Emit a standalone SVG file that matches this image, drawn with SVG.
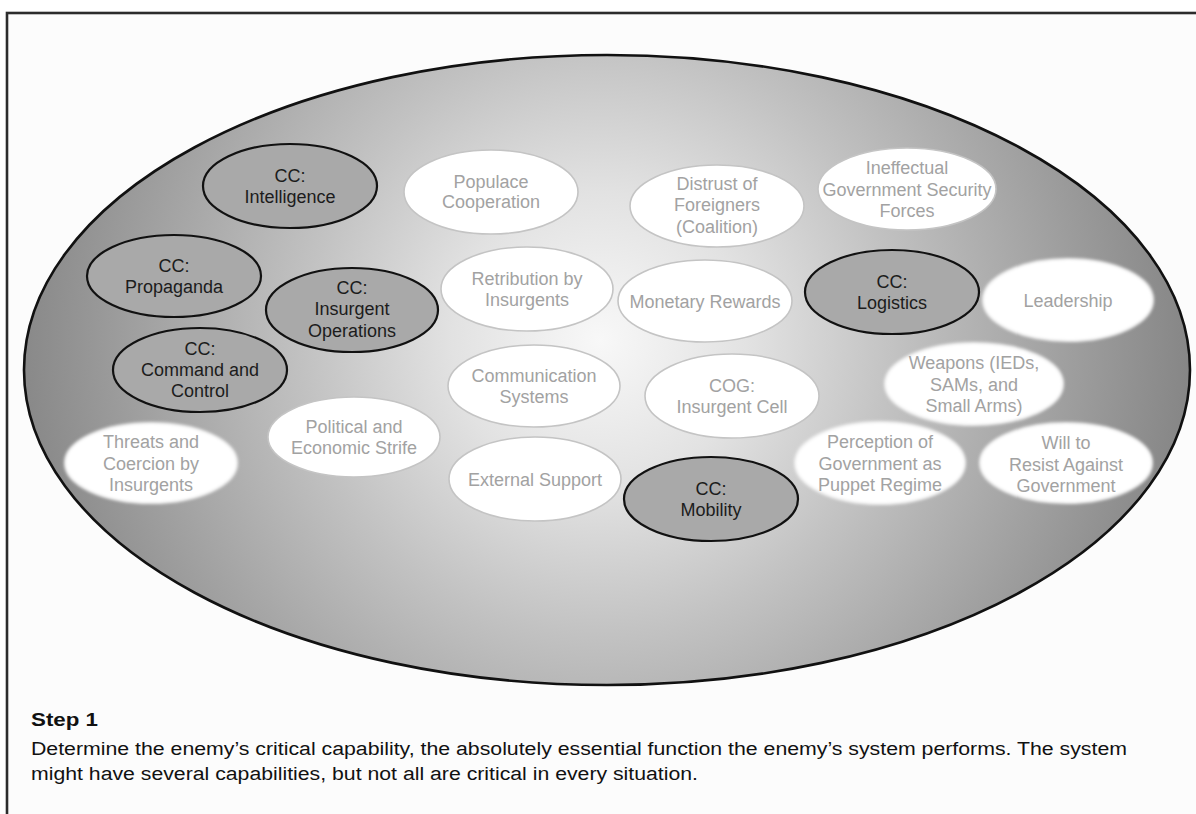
<svg xmlns="http://www.w3.org/2000/svg" width="1196" height="814" viewBox="0 0 1196 814">
  <defs>
    <radialGradient id="field" gradientUnits="userSpaceOnUse" cx="600" cy="340" r="590">
      <stop offset="0" stop-color="#f8f8f8"/>
      <stop offset="0.25" stop-color="#e2e2e2"/>
      <stop offset="0.5" stop-color="#c2c2c2"/>
      <stop offset="1" stop-color="#868686"/>
    </radialGradient>
    <filter id="soft" x="-10%" y="-10%" width="120%" height="120%">
      <feGaussianBlur stdDeviation="1.6"/>
    </filter>
    <style>
      .cc ellipse { fill: #a9a9a9; stroke: #111; stroke-width: 2.2; }
      .cc text { fill: #1c1c1c; }
      .lt ellipse { fill: #ffffff; stroke: #c4c4c4; stroke-width: 1.6; }
      .lt.edge ellipse { stroke: #f2f2f2; stroke-width: 2; filter: url(#soft); }
      .lt text { fill: #a2a2a2; }
      text { font-family: "Liberation Sans", Arial, sans-serif; font-size: 18px; text-anchor: middle; }
      .caption { text-anchor: start; fill: #111; }
    </style>
  </defs>

  <!-- page frame -->
  <rect x="0" y="0" width="1196" height="814" fill="#ffffff"/>
  <rect x="7" y="13" width="1200" height="820" fill="#fcfcfc" stroke="#2c2c2c" stroke-width="2.6"/>

  <!-- system boundary -->
  <ellipse id="system" cx="607" cy="370" rx="583" ry="315" fill="url(#field)" stroke="#111" stroke-width="2.6"/>

  <g id="connectors"/>

  <!-- critical capabilities -->
  <g id="cc-intelligence" class="cc">
    <ellipse cx="290" cy="186" rx="87" ry="42"/>
    <text x="290" y="182">CC:</text>
    <text x="290" y="203">Intelligence</text>
  </g>
  <g id="cc-propaganda" class="cc">
    <ellipse cx="174" cy="276" rx="87" ry="41"/>
    <text x="174" y="272">CC:</text>
    <text x="174" y="293">Propaganda</text>
  </g>
  <g id="cc-insurgent-operations" class="cc">
    <ellipse cx="352" cy="310" rx="86" ry="42"/>
    <text x="352" y="294">CC:</text>
    <text x="352" y="315">Insurgent</text>
    <text x="352" y="337">Operations</text>
  </g>
  <g id="cc-command-control" class="cc">
    <ellipse cx="200" cy="370" rx="87" ry="42"/>
    <text x="200" y="355">CC:</text>
    <text x="200" y="376">Command and</text>
    <text x="200" y="397">Control</text>
  </g>
  <g id="cc-logistics" class="cc">
    <ellipse cx="892" cy="292" rx="87" ry="42"/>
    <text x="892" y="288">CC:</text>
    <text x="892" y="309">Logistics</text>
  </g>
  <g id="cc-mobility" class="cc">
    <ellipse cx="711" cy="499" rx="87" ry="42"/>
    <text x="711" y="495">CC:</text>
    <text x="711" y="516">Mobility</text>
  </g>

  <!-- other system elements -->
  <g id="populace-cooperation" class="lt">
    <ellipse cx="491" cy="192" rx="87" ry="42"/>
    <text x="491" y="188">Populace</text>
    <text x="491" y="208">Cooperation</text>
  </g>
  <g id="distrust-of-foreigners" class="lt">
    <ellipse cx="717" cy="206" rx="87" ry="41"/>
    <text x="717" y="190">Distrust of</text>
    <text x="717" y="211">Foreigners</text>
    <text x="717" y="233">(Coalition)</text>
  </g>
  <g id="ineffectual-security-forces" class="lt">
    <ellipse cx="907" cy="189" rx="89" ry="41"/>
    <text x="907" y="174">Ineffectual</text>
    <text x="907" y="196">Government Security</text>
    <text x="907" y="217">Forces</text>
  </g>
  <g id="retribution" class="lt">
    <ellipse cx="527" cy="289" rx="86" ry="42"/>
    <text x="527" y="285">Retribution by</text>
    <text x="527" y="306">Insurgents</text>
  </g>
  <g id="monetary-rewards" class="lt">
    <ellipse cx="705" cy="301" rx="87" ry="41"/>
    <text x="705" y="308">Monetary Rewards</text>
  </g>
  <g id="leadership" class="lt edge">
    <ellipse cx="1068" cy="300" rx="85" ry="41"/>
    <text x="1068" y="307">Leadership</text>
  </g>
  <g id="communication-systems" class="lt">
    <ellipse cx="534" cy="386" rx="86" ry="41"/>
    <text x="534" y="382">Communication</text>
    <text x="534" y="403">Systems</text>
  </g>
  <g id="cog-insurgent-cell" class="lt">
    <ellipse cx="732" cy="396" rx="87" ry="42"/>
    <text x="732" y="392">COG:</text>
    <text x="732" y="413">Insurgent Cell</text>
  </g>
  <g id="weapons" class="lt edge">
    <ellipse cx="974" cy="384" rx="89" ry="41"/>
    <text x="974" y="369">Weapons (IEDs,</text>
    <text x="974" y="391">SAMs, and</text>
    <text x="974" y="412">Small Arms)</text>
  </g>
  <g id="puppet-regime" class="lt edge">
    <ellipse cx="880" cy="463" rx="85" ry="41"/>
    <text x="880" y="448">Perception of</text>
    <text x="880" y="470">Government as</text>
    <text x="880" y="491">Puppet Regime</text>
  </g>
  <g id="will-to-resist" class="lt edge">
    <ellipse cx="1066" cy="463" rx="86" ry="40"/>
    <text x="1066" y="449">Will to</text>
    <text x="1066" y="471">Resist Against</text>
    <text x="1066" y="492">Government</text>
  </g>
  <g id="political-economic-strife" class="lt">
    <ellipse cx="354" cy="437" rx="86" ry="40"/>
    <text x="354" y="433">Political and</text>
    <text x="354" y="454">Economic Strife</text>
  </g>
  <g id="threats-coercion" class="lt edge">
    <ellipse cx="151" cy="463" rx="86" ry="40"/>
    <text x="151" y="448">Threats and</text>
    <text x="151" y="470">Coercion by</text>
    <text x="151" y="491">Insurgents</text>
  </g>
  <g id="external-support" class="lt">
    <ellipse cx="535" cy="479" rx="86" ry="42"/>
    <text x="535" y="486">External Support</text>
  </g>

  <!-- caption -->
  <g id="caption">
    <text class="caption" x="31" y="726" font-weight="bold" font-size="20" textLength="67" lengthAdjust="spacingAndGlyphs">Step 1</text>
    <text class="caption" x="31" y="755" textLength="1096" lengthAdjust="spacingAndGlyphs">Determine the enemy’s critical capability, the absolutely essential function the enemy’s system performs. The system</text>
    <text class="caption" x="31" y="780" textLength="667" lengthAdjust="spacingAndGlyphs">might have several capabilities, but not all are critical in every situation.</text>
  </g>
</svg>
